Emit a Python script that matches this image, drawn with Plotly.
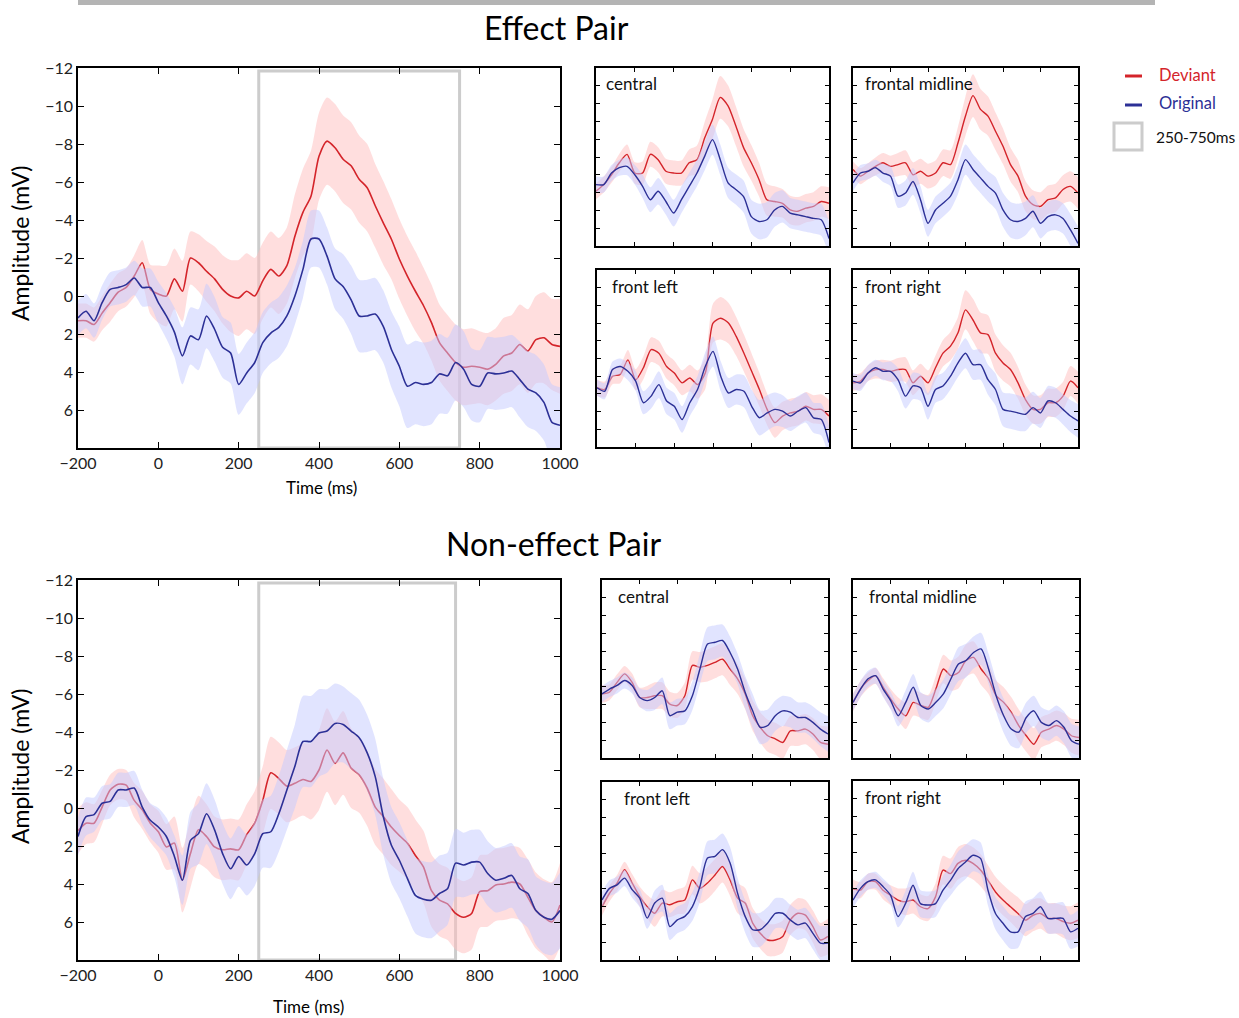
import plotly.graph_objects as go

W, H = 1239, 1018

# ---------------- data ----------------
t_big = list(range(-200, 1001, 20))     # 61 samples
t_small = list(range(-200, 1001, 40))   # 31 samples

x_ticks = [-200, 0, 200, 400, 600, 800, 1000]
x_tick_labels = ["\u2212200", "0", "200", "400", "600", "800", "1000"]
y_ticks = [-12, -10, -8, -6, -4, -2, 0, 2, 4, 6]
y_tick_labels = ["\u221212", "\u221210", "\u22128", "\u22126", "\u22124", "\u22122", "0", "2", "4", "6"]
small_x_ticks = [-200, 0, 200, 400, 600, 800, 1000]
small_y_ticks = [-10, -8, -6, -4, -2, 0, 2, 4, 6]

# Effect pair, grand average
eff_dev = [1.3, 1.3, 1.5, 0.9, 0.35, -0.2, -0.45, -1.05, -1.75, -0.35,
           -0.1, 0.0, -0.9, -0.25, -2.0, -1.75, -1.3, -0.9, -0.35, 0.0,
           0.1, -0.25, 0.0, -0.8, -1.4, -1.05, -1.6, -3.15, -4.4, -5.25,
           -7.35, -8.15, -7.8, -7.2, -6.85, -6.15, -5.7, -4.75, -3.85, -3.0,
           -1.95, -1.05, -0.25, 0.5, 1.4, 2.45, 3.0, 3.5, 3.75, 3.7,
           3.75, 3.85, 3.6, 3.15, 3.0, 2.55, 2.9, 2.3, 2.2, 2.55, 2.65]
eff_dev_sem = [0.9, 0.9, 0.9, 0.9, 1.0, 1.0, 1.0, 1.1, 1.2, 1.3,
               1.5, 1.6, 1.6, 1.6, 1.4, 1.5, 1.6, 1.7, 1.8, 1.9,
               2.0, 2.0, 2.0, 2.0, 2.0, 2.0, 2.0, 2.2, 2.3, 2.4,
               2.3, 2.3, 2.3, 2.3, 2.3, 2.3, 2.3, 2.2, 2.2, 2.1,
               2.1, 2.1, 2.1, 2.0, 2.0, 2.0, 2.0, 2.0, 2.0, 2.0,
               1.9, 1.9, 1.9, 2.0, 2.0, 2.1, 2.2, 2.3, 2.4, 2.4, 2.5]
eff_org = [1.15, 0.8, 1.3, 0.35, -0.35, -0.45, -0.6, -0.95, -0.45, -0.45,
           0.35, 1.05, 1.9, 3.15, 2.1, 2.3, 1.05, 1.75, 2.7, 3.0,
           4.65, 4.05, 3.5, 2.45, 1.95, 1.65, 1.05, 0.0, -1.4, -3.0,
           -3.0, -2.1, -0.9, -0.5, 0.2, 1.05, 1.05, 0.95, 1.6, 2.8,
           3.7, 4.75, 4.55, 4.65, 4.55, 4.1, 4.2, 3.5, 3.85, 4.65,
           4.75, 4.05, 4.1, 4.05, 3.95, 4.4, 4.9, 5.1, 5.6, 6.65, 6.8]
eff_org_sem = [0.9, 0.9, 0.9, 0.9, 0.9, 0.9, 0.9, 0.9, 1.0, 1.0,
               1.1, 1.2, 1.3, 1.5, 1.5, 1.6, 1.7, 1.7, 1.6, 1.6,
               1.6, 1.6, 1.6, 1.6, 1.6, 1.6, 1.6, 1.5, 1.5, 1.5,
               1.5, 1.5, 1.6, 1.7, 1.8, 1.9, 1.9, 1.9, 1.9, 2.0,
               2.1, 2.2, 2.2, 2.2, 2.2, 2.1, 2.0, 2.0, 2.0, 1.9,
               1.9, 1.9, 1.9, 1.9, 1.9, 2.0, 2.0, 2.0, 2.0, 2.0, 2.0]

# Non-effect pair, grand average
non_dev = [1.2, 0.8, 0.8, -0.05, -0.95, -1.25, -1.2, -0.4, 0.1, 0.8,
           1.25, 2.05, 1.85, 3.8, 2.4, 1.15, 1.5, 2.05, 2.2, 2.15,
           2.2, 1.4, 0.8, -0.4, -1.85, -1.55, -1.15, -1.3, -1.5, -1.4,
           -2.0, -3.05, -2.35, -2.9, -2.1, -1.75, -1.05, -0.05, 0.45, 1.0,
           1.45, 1.85, 2.5, 3.1, 4.35, 4.85, 5.05, 5.55, 5.75, 5.55,
           4.4, 4.35, 4.05, 4.0, 3.9, 4.0, 4.7, 5.4, 5.75, 6.0, 5.1]
non_dev_sem = [1.2, 1.1, 1.0, 0.9, 0.8, 0.8, 0.8, 0.9, 1.0, 1.0,
               1.1, 1.2, 1.4, 1.7, 1.8, 1.8, 1.7, 1.6, 1.6, 1.6,
               1.6, 1.6, 1.7, 1.8, 1.9, 1.9, 1.9, 1.9, 1.9, 2.0,
               2.1, 2.2, 2.2, 2.2, 2.1, 2.0, 2.0, 2.0, 2.0, 2.0,
               1.9, 1.9, 1.9, 1.9, 1.9, 1.9, 1.9, 1.9, 1.9, 1.9,
               1.9, 1.9, 1.9, 1.9, 1.9, 1.9, 2.0, 2.0, 2.0, 2.1, 2.2]
non_org = [1.5, 0.45, 0.35, -0.25, -0.35, -0.95, -0.95, -1.05, -0.05, 0.65,
           1.0, 1.5, 2.55, 3.8, 1.7, 1.35, 0.3, 1.15, 2.4, 3.2,
           2.55, 3.0, 2.4, 1.35, 1.25, 0.3, -0.95, -2.2, -3.5, -3.5,
           -3.95, -4.05, -4.45, -4.4, -4.05, -3.7, -2.9, -1.65, 0.45, 1.95,
           2.75, 3.7, 4.6, 4.8, 4.85, 4.5, 4.25, 2.9, 3.0, 2.85,
           2.85, 3.45, 3.8, 3.7, 3.55, 4.25, 4.5, 5.4, 5.75, 5.85, 5.4]
non_org_sem = [1.0, 1.0, 0.9, 0.9, 0.9, 0.9, 0.9, 0.9, 0.9, 0.9,
               1.0, 1.0, 1.1, 1.3, 1.5, 1.6, 1.6, 1.6, 1.6, 1.6,
               1.6, 1.6, 1.7, 1.8, 1.9, 2.0, 2.1, 2.2, 2.4, 2.4,
               2.3, 2.2, 2.1, 2.0, 2.0, 2.0, 2.0, 2.0, 2.0, 2.0,
               2.0, 2.0, 2.0, 2.0, 2.0, 2.0, 1.9, 1.8, 1.7, 1.7,
               1.7, 1.7, 1.7, 1.7, 1.7, 1.7, 1.8, 1.8, 1.9, 1.9, 2.0]

# Effect pair, regions
eff_central_dev = [1.85, 1.1, 0.0, -1.35, -2.3, -0.2, -0.2, -2.3, -1.7, -0.4, -0.2, -0.2, -1.35, -1.7, -4.15, -6.25,
                   -8.7, -7.75, -5.5, -3.05, -1.35, 0.55, 2.8, 3.0, 3.2, 3.95, 4.1, 3.75, 3.55, 3.0, 3.2]
eff_central_org = [1.1, 1.1, -0.2, -0.8, -0.95, 0.0, 1.3, 2.8, 1.85, 3.0, 4.3, 2.8, 1.3, -0.2, -2.1, -3.95,
                   -1.7, 0.9, 1.65, 2.45, 4.7, 5.25, 5.05, 3.95, 3.55, 4.3, 4.5, 4.7, 4.9, 5.05, 7.15]
eff_fmid_dev = [-0.6, 0.15, -0.4, -0.95, -1.35, -0.95, -1.15, -1.35, 0.0, -0.4, 0.15, -0.2, -1.35, -1.15, -3.6, -6.6,
                -8.9, -7.35, -6.6, -4.9, -3.2, -1.15, 0.15, 2.4, 3.35, 3.55, 2.8, 2.6, 1.65, 1.3, 2.05]
eff_fmid_org = [0.9, -0.2, -0.4, -0.8, -0.2, 0.15, 2.4, 2.05, 0.75, 2.8, 5.45, 3.95, 3.2, 2.4, 0.55, -1.7,
                -0.6, 0.35, 1.3, 2.05, 3.95, 5.05, 5.25, 4.9, 4.1, 5.45, 4.7, 4.5, 4.9, 6.2, 7.7]
eff_fleft_dev = [1.3, 1.5, 0.0, -0.2, -1.85, 0.4, -0.95, -3.0, -2.6, -1.1, -0.35, 0.75, 0.2, 0.95, -0.35, -6.0,
                 -6.55, -6.0, -4.5, -2.6, -0.55, 1.5, 3.75, 5.25, 4.5, 4.15, 3.95, 3.4, 3.75, 3.75, 4.5]
eff_fleft_org = [1.3, 1.7, -0.75, -1.1, -0.55, 0.55, 3.0, 2.25, 0.95, 2.8, 3.4, 4.9, 3.0, 1.5, -1.1, -2.8,
                 0.0, 1.9, 1.5, 1.7, 3.4, 4.7, 4.15, 3.75, 3.95, 4.5, 3.95, 3.55, 4.7, 4.9, 7.5]
eff_fright_dev = [0.75, 0.55, -0.35, -0.75, -0.75, -0.55, -0.75, -0.75, 0.75, 0.0, 0.75, -0.95, -2.6, -3.4, -4.9, -7.5,
                  -6.35, -4.9, -4.7, -2.6, -1.5, -0.75, 0.75, 2.65, 3.75, 3.75, 3.0, 3.0, 2.25, 0.55, 1.3]
eff_fright_org = [0.55, 0.75, -0.35, -0.95, -0.55, -0.55, 0.4, 2.25, 1.1, 1.3, 3.4, 1.5, 1.1, 0.0, -1.5, -2.6,
                  -1.3, -1.3, 0.4, 1.5, 3.75, 3.95, 4.15, 4.3, 3.55, 4.15, 2.8, 3.0, 3.75, 4.5, 5.05]

eff_small_dev_sem = [0.9, 0.9, 0.9, 1.0, 1.1, 1.2, 1.3, 1.4, 1.4, 1.4, 1.4, 1.4, 1.5, 1.6, 1.8, 2.2,
                     2.4, 2.3, 2.2, 2.1, 2.0, 1.9, 1.8, 1.7, 1.6, 1.6, 1.6, 1.6, 1.6, 1.7, 1.8]
eff_small_org_sem = [0.9, 0.9, 0.9, 0.9, 1.0, 1.1, 1.3, 1.4, 1.5, 1.5, 1.5, 1.5, 1.5, 1.5, 1.6, 1.7,
                     1.7, 1.7, 1.7, 1.8, 1.9, 2.0, 2.0, 1.9, 1.8, 1.7, 1.7, 1.7, 1.7, 1.8, 1.9]

# Non-effect pair, regions
non_central_dev = [0.8, 0.6, -0.5, -1.45, -0.5, 1.2, 1.2, 1.0, 1.0, 1.95, 2.1, 1.0, -2.4, -2.2, -2.4, -2.75,
                   -3.1, -2.0, -0.9, 0.8, 3.25, 4.55, 5.5, 5.85, 6.25, 4.95, 4.95, 4.75, 5.3, 6.25, 6.45]
non_central_org = [0.8, 0.25, -0.15, -0.7, -0.15, 1.2, 1.55, 1.2, 0.45, 3.25, 2.85, 2.7, 1.0, -2.0, -4.8, -5.0,
                   -5.2, -3.85, -2.0, 0.6, 2.7, 4.55, 4.35, 3.25, 2.7, 2.85, 3.45, 3.45, 4.0, 4.75, 5.3]
non_fmid_dev = [1.75, 0.25, -0.7, -1.25, 0.05, 1.35, 2.5, 3.25, 1.75, 2.1, 2.3, 0.25, -2.0, -1.25, -1.6, -2.95,
                -3.3, -2.0, -0.9, 1.0, 1.75, 2.85, 4.35, 5.5, 6.45, 5.1, 4.75, 4.35, 4.75, 5.5, 5.7]
non_fmid_org = [1.75, 0.25, -0.9, -1.25, 0.25, 1.55, 3.25, 1.75, 0.05, 2.1, 2.5, 1.75, 0.8, -0.9, -2.55, -2.95,
                -3.85, -4.25, -2.0, 1.0, 3.25, 4.75, 5.1, 3.45, 2.7, 4.0, 4.35, 3.8, 4.55, 6.05, 6.45]
non_fleft_dev = [2.0, 0.5, -0.65, -2.15, -0.65, 0.85, 2.0, 2.75, 1.6, 1.8, 1.45, 1.25, -1.0, -0.05, -0.65, -1.55,
                 -2.5, -1.0, 1.05, 1.6, 3.85, 5.0, 5.75, 5.75, 5.35, 3.5, 2.75, 2.95, 4.25, 5.75, 5.35]
non_fleft_org = [1.25, -0.05, -0.45, -1.2, 0.1, 1.05, 3.3, 1.6, 1.05, 4.25, 3.5, 3.1, 2.0, -0.25, -3.45, -3.65,
                 -4.4, -2.9, 0.5, 3.1, 4.6, 4.6, 3.85, 2.75, 2.75, 3.5, 4.05, 3.85, 5.0, 6.1, 6.1]
non_fright_dev = [0.0, 0.2, -0.75, -0.75, 0.2, 0.75, 1.3, 1.5, 1.3, 2.05, 2.25, 0.95, -2.05, -1.65, -2.8, -3.15,
                  -2.8, -2.05, -0.9, 0.4, 1.3, 2.05, 2.8, 3.55, 3.0, 2.8, 3.35, 3.35, 3.7, 3.9, 3.55]
non_fright_org = [1.3, 0.0, -0.75, -0.95, -0.2, 0.75, 3.15, 1.7, -0.35, 1.7, 1.85, 1.7, 0.2, -0.9, -2.2, -2.95,
                  -3.7, -3.35, 0.2, 2.8, 3.9, 4.85, 4.85, 3.15, 2.8, 2.05, 3.35, 3.35, 3.35, 4.85, 4.45]

non_small_dev_sem = [1.0, 0.9, 0.9, 0.9, 1.0, 1.1, 1.3, 1.5, 1.5, 1.4, 1.4, 1.5, 1.6, 1.7, 1.8, 1.8,
                     1.8, 1.8, 1.7, 1.7, 1.7, 1.7, 1.8, 1.8, 1.8, 1.7, 1.7, 1.7, 1.8, 1.9, 2.0]
non_small_org_sem = [0.9, 0.9, 0.9, 0.9, 0.9, 1.0, 1.2, 1.4, 1.5, 1.5, 1.5, 1.5, 1.6, 1.7, 1.9, 1.9,
                     1.8, 1.8, 1.7, 1.8, 1.9, 1.9, 1.8, 1.7, 1.7, 1.7, 1.7, 1.7, 1.8, 1.9, 2.0]

region_names = ["central", "frontal midline", "front left", "front right"]
legend_labels = ["Deviant", "Original", "250-750ms"]
window_effect = [250, 750]
window_non = [250, 740]

# ---------------- styles ----------------
RED = "rgb(212,36,42)"
BLUE = "rgb(44,48,150)"
RED_BAND = "rgba(255,190,190,0.5)"
BLUE_BAND = "rgba(196,202,255,0.5)"
GREY = "rgb(204,204,204)"
FONT = "Lato"


def px_x(p):
    return p / W


def px_y(p):
    return 1 - p / H


fig = go.Figure()
layout = dict(width=W, height=H, margin=dict(l=0, r=0, t=0, b=0, pad=0, autoexpand=False),
              paper_bgcolor="white", plot_bgcolor="white", showlegend=False,
              font=dict(family=FONT, color="#111"))
shapes = []
annotations = []


def add_series(idx, t, mean, sem, line_color, band_color, lw):
    xa = "x" if idx == 1 else f"x{idx}"
    ya = "y" if idx == 1 else f"y{idx}"
    upper = [m - s for m, s in zip(mean, sem)]
    lower = [m + s for m, s in zip(mean, sem)]
    fig.add_trace(go.Scatter(x=t, y=upper, mode="lines", line=dict(width=0, shape="spline", smoothing=0.7),
                             xaxis=xa, yaxis=ya, hoverinfo="skip"))
    fig.add_trace(go.Scatter(x=t, y=lower, mode="lines", line=dict(width=0, shape="spline", smoothing=0.7),
                             fill="tonexty", fillcolor=band_color, xaxis=xa, yaxis=ya, hoverinfo="skip"))
    fig.add_trace(go.Scatter(x=t, y=mean, mode="lines", line=dict(color=line_color, width=lw, shape="spline", smoothing=0.7),
                             xaxis=xa, yaxis=ya))


def add_axes(idx, box, big):
    x0, x1, y0, y1 = box
    xname = "xaxis" if idx == 1 else f"xaxis{idx}"
    yname = "yaxis" if idx == 1 else f"yaxis{idx}"
    ya = "y" if idx == 1 else f"y{idx}"
    xa = "x" if idx == 1 else f"x{idx}"
    common = dict(showline=True, linecolor="black", linewidth=1.5, mirror="ticks", ticks="inside",
                  ticklen=6 if big else 4, tickwidth=1.2, tickcolor="black", showgrid=False, zeroline=False,
                  automargin=False, tickfont=dict(size=16, family=FONT, color="#222"))
    layout[xname] = dict(common, domain=[px_x(x0), px_x(x1)], anchor=ya, range=[-200, 1000],
                         tickvals=x_ticks if big else small_x_ticks,
                         ticktext=x_tick_labels if big else None, showticklabels=big)
    layout[yname] = dict(common, domain=[px_y(y1), px_y(y0)], anchor=xa, range=[8, -12],
                         tickvals=y_ticks if big else small_y_ticks,
                         ticktext=y_tick_labels if big else None, showticklabels=big)


panels = [
    # idx, box(x0,x1,y0,y1), big, dev, dev_sem, org, org_sem, t, label
    (1, (78, 560, 68, 448), True, eff_dev, eff_dev_sem, eff_org, eff_org_sem, t_big, None),
    (2, (596, 829, 68, 246), False, eff_central_dev, eff_small_dev_sem, eff_central_org, eff_small_org_sem, t_small, region_names[0]),
    (3, (853, 1078, 68, 246), False, eff_fmid_dev, eff_small_dev_sem, eff_fmid_org, eff_small_org_sem, t_small, region_names[1]),
    (4, (597, 829, 270, 447), False, eff_fleft_dev, eff_small_dev_sem, eff_fleft_org, eff_small_org_sem, t_small, region_names[2]),
    (5, (853, 1078, 270, 447), False, eff_fright_dev, eff_small_dev_sem, eff_fright_org, eff_small_org_sem, t_small, region_names[3]),
    (6, (78, 560, 580, 960), True, non_dev, non_dev_sem, non_org, non_org_sem, t_big, None),
    (7, (602, 828, 580, 758), False, non_central_dev, non_small_dev_sem, non_central_org, non_small_org_sem, t_small, region_names[0]),
    (8, (853, 1079, 580, 758), False, non_fmid_dev, non_small_dev_sem, non_fmid_org, non_small_org_sem, t_small, region_names[1]),
    (9, (602, 828, 782, 960), False, non_fleft_dev, non_small_dev_sem, non_fleft_org, non_small_org_sem, t_small, region_names[2]),
    (10, (853, 1078, 781, 960), False, non_fright_dev, non_small_dev_sem, non_fright_org, non_small_org_sem, t_small, region_names[3]),
]

label_offsets = {2: 8, 3: 10, 4: 13, 5: 10, 7: 14, 8: 14, 9: 20, 10: 10}

for idx, box, big, dev, dsem, org, osem, t, label in panels:
    add_axes(idx, box, big)
    add_series(idx, t, dev, dsem, RED, RED_BAND, 1.6 if big else 1.4)
    add_series(idx, t, org, osem, BLUE, BLUE_BAND, 1.6 if big else 1.4)
    if label:
        annotations.append(dict(text=label, xref="paper", yref="paper",
                                x=px_x(box[0] + label_offsets[idx]), y=px_y(box[2] + 16),
                                xanchor="left", yanchor="middle", showarrow=False,
                                font=dict(size=17, family=FONT, color="#111")))

# analysis windows
for idx, win in ((1, window_effect), (6, window_non)):
    xa = "x" if idx == 1 else f"x{idx}"
    ya = "y" if idx == 1 else f"y{idx}"
    shapes.append(dict(type="rect", xref=xa, yref=f"{ya} domain", x0=win[0], x1=win[1], y0=0.0, y1=0.992,
                       line=dict(color=GREY, width=3), fillcolor="rgba(0,0,0,0)", layer="below"))

# top grey bar
shapes.append(dict(type="rect", xref="paper", yref="paper", x0=px_x(78), x1=px_x(1155), y0=px_y(5), y1=px_y(0),
                   fillcolor="rgb(180,180,180)", line=dict(width=0)))

# legend
shapes.append(dict(type="line", xref="paper", yref="paper", x0=px_x(1125), x1=px_x(1142), y0=px_y(76), y1=px_y(76),
                   line=dict(color=RED, width=3)))
shapes.append(dict(type="line", xref="paper", yref="paper", x0=px_x(1125), x1=px_x(1142), y0=px_y(105), y1=px_y(105),
                   line=dict(color=BLUE, width=3)))
shapes.append(dict(type="rect", xref="paper", yref="paper", x0=px_x(1114), x1=px_x(1142), y0=px_y(150), y1=px_y(123),
                   line=dict(color=GREY, width=3), fillcolor="white"))
annotations.append(dict(text=legend_labels[0], xref="paper", yref="paper", x=px_x(1157), y=px_y(75),
                        xanchor="left", yanchor="middle", showarrow=False, font=dict(size=16.5, family=FONT, color=RED)))
annotations.append(dict(text=legend_labels[1], xref="paper", yref="paper", x=px_x(1157), y=px_y(103),
                        xanchor="left", yanchor="middle", showarrow=False, font=dict(size=16.5, family=FONT, color=BLUE)))
annotations.append(dict(text=legend_labels[2], xref="paper", yref="paper", x=px_x(1154), y=px_y(137),
                        xanchor="left", yanchor="middle", showarrow=False, font=dict(size=15.5, family=FONT, color="#111")))

# titles
annotations.append(dict(text="Effect Pair", xref="paper", yref="paper", x=px_x(556), y=px_y(28),
                        xanchor="center", yanchor="middle", showarrow=False, font=dict(size=32, family=FONT, color="black")))
annotations.append(dict(text="Non-effect Pair", xref="paper", yref="paper", x=px_x(553), y=px_y(543),
                        xanchor="center", yanchor="middle", showarrow=False, font=dict(size=32, family=FONT, color="black")))

# axis titles
for cy in (243, 766):
    annotations.append(dict(text="Amplitude (mV)", xref="paper", yref="paper", x=px_x(20), y=px_y(cy),
                            xanchor="center", yanchor="middle", textangle=-90, showarrow=False,
                            font=dict(size=23, family=FONT, color="black")))
for cx, cy in ((321, 488), (308, 1006)):
    annotations.append(dict(text="Time (ms)", xref="paper", yref="paper", x=px_x(cx), y=px_y(cy),
                            xanchor="center", yanchor="middle", showarrow=False,
                            font=dict(size=17, family=FONT, color="black")))

layout["shapes"] = shapes
layout["annotations"] = annotations
fig.update_layout(**layout)
fig.write_html("out.html", config={"displayModeBar": False},
               post_script="document.body.style.margin='0px';document.body.style.overflow='hidden';")
